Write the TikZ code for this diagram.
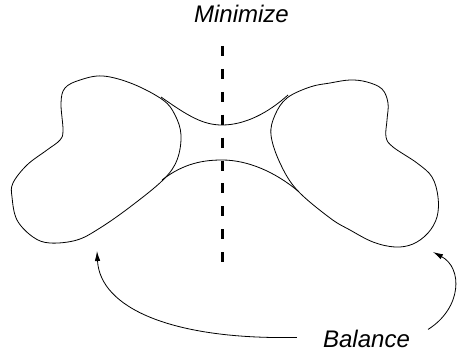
\documentclass[tikz,border=0pt]{standalone}
\usepackage{fontspec}
\setmainfont{Liberation Sans}
\usetikzlibrary{arrows.meta, positioning, calc}

\begin{document}
\begin{tikzpicture}[
        x=1pt, y=-1pt,
        blob/.style={draw, line width=0.8pt},
        neck/.style={draw, line width=0.8pt},
        cut/.style={draw, line width=3pt, dash pattern=on 10pt off 12.9pt},
        label/.style={font=\itshape\fontsize{24}{28}\selectfont, inner sep=2pt},
        line/.style={draw, line width=0.8pt, -{Latex[length=10pt, width=5.5pt]}}
    ]
        \useasboundingbox (0,0) rectangle (460,353);

        % Left blob
        \draw[blob] plot[smooth cycle, tension=0.6] coordinates {
            (103,76) (80,80) (65,88) (61,103) (63,130) (60,140) (47,150)
            (27,165) (13,183) (12,197) (17,220) (33,237) (50,243) (77,240)
            (100,228) (130,207) (163,180) (177,160) (181,135) (175,115)
            (163,100) (133,84)};

        % Right blob
        \draw[blob] plot[smooth cycle, tension=0.6] coordinates {
            (330,83) (350,80) (367,82) (382,89) (388,103) (387,120) (386,137)
            (393,147) (417,163) (432,177) (438,197) (437,217) (428,233)
            (413,244) (395,247) (373,242) (350,230) (330,218) (297,190)
            (280,163) (271,135) (275,115) (287,98) (310,87)};

        % Neck
        \draw[neck] (161,97) .. controls (188,116) and (203,125) .. (222,125)
            .. controls (245,125) and (268,113) .. (288,95);
        \draw[neck] (162,180) .. controls (184,163) and (204,160) .. (222,160)
            .. controls (248,160) and (275,172) .. (298,191);

        % Cut line
        \coordinate (cuttop) at (222,46);
        \coordinate (cutbot) at (222,262);
        \draw[cut] (cuttop) -- (cutbot);

        % Labels
        \node[label, anchor=base] (minimize) at (241.5,23) {Minimize};
        \node[label, anchor=base] (balance) at (366.5,347) {Balance};

        % Arrows
        \coordinate (lefttip) at (97,251);
        \coordinate (righttip) at (433,252);
        \draw[line] ([xshift=-24pt, yshift=1pt]balance.west)
            .. controls (172,340) and (100,308) .. (lefttip);
        \draw[line] ([xshift=16pt, yshift=9pt]balance.east)
            .. controls (462,308) and (463,268) .. (righttip);
    \end{tikzpicture}
\end{document}
